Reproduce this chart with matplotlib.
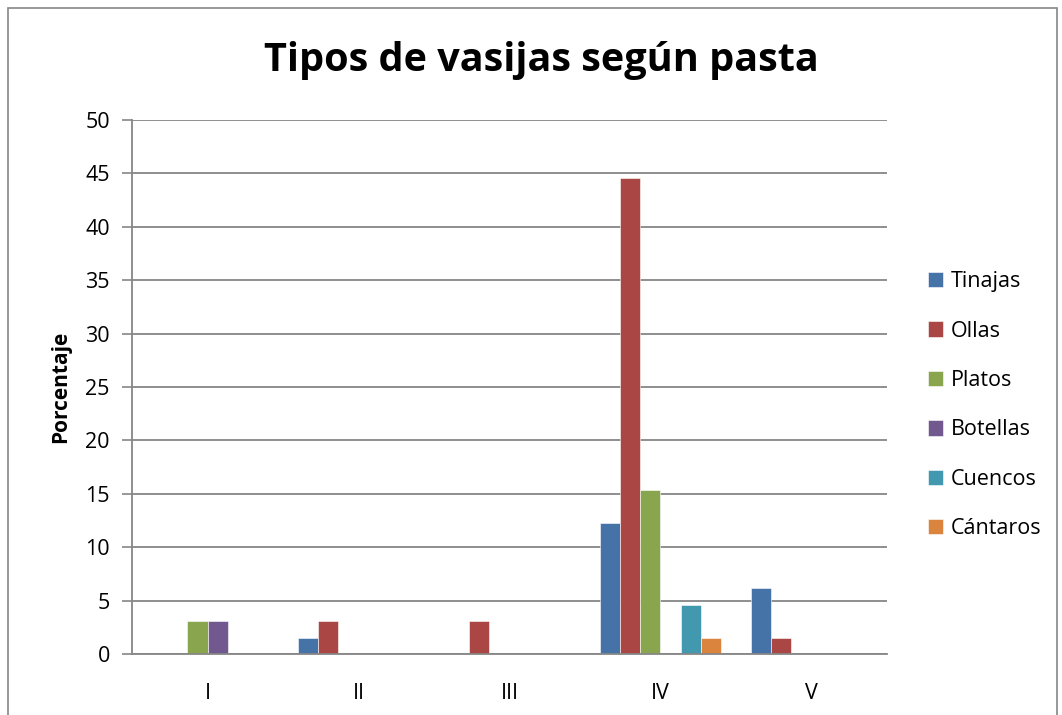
import numpy as np
import matplotlib.pyplot as plt
from matplotlib.patches import Rectangle

# Datos
pastas = ["I", "II", "III", "IV", "V"]
tipos = ["Tinajas", "Ollas", "Platos", "Botellas", "Cuencos", "Cántaros"]
tinajas = [0, 1.5, 0, 12.3, 6.2]
ollas = [0, 3.1, 3.1, 44.6, 1.5]
platos = [3.1, 0, 0, 15.4, 0]
botellas = [3.1, 0, 0, 0, 0]
cuencos = [0, 0, 0, 4.6, 0]
cantaros = [0, 0, 0, 1.5, 0]
series = [tinajas, ollas, platos, botellas, cuencos, cantaros]
colores = ["#4572A7", "#AA4643", "#89A54E", "#71588F", "#4198AF", "#DB843D"]

plt.rcParams['font.family'] = ['Open Sans', 'DejaVu Sans']

fig = plt.figure(figsize=(10.62, 7.15), dpi=100)
ax = fig.add_axes([132 / 1062, 1 - 654 / 715, (887 - 132) / 1062, (654 - 120) / 715])

x = np.arange(len(pastas))
ancho = 1 / 7.5
for i, (vals, nombre, col) in enumerate(zip(series, tipos, colores)):
    ax.bar(x + (i - 2.5) * ancho, vals, ancho, color=col, label=nombre,
           edgecolor="white", linewidth=0.4)

ax.set_xlim(-0.5, len(pastas) - 0.5)
ax.set_ylim(0, 50)
ax.set_yticks(range(0, 51, 5))
ax.set_xticks(x)
ax.set_xticklabels(pastas)
ax.tick_params(axis="x", length=0, pad=21, labelsize=15.5)
ax.tick_params(axis="y", length=7, width=1.2, color="#868686", pad=9, labelsize=15.5)
ax.grid(axis="y", color="#868686", linewidth=1.3)
ax.set_axisbelow(True)
for lado in ["top", "right"]:
    ax.spines[lado].set_visible(False)
for lado in ["left", "bottom"]:
    ax.spines[lado].set_color("#868686")
    ax.spines[lado].set_linewidth(1.3)

ax.set_ylabel("Porcentaje", fontsize=15, fontweight="bold", labelpad=10)
fig.text(541 / 1062, 1 - 60 / 715, "Tipos de vasijas según pasta", fontsize=28.5,
         fontweight="bold", ha="center", va="center")

ax.legend(loc="center left", bbox_to_anchor=(1.028, 0.466), frameon=False,
          fontsize=15.5, handlelength=0.72, handleheight=0.72, handletextpad=0.35,
          labelspacing=1.32)

fig.patches.append(Rectangle((8 / 1062, -0.01), 1049 / 1062, 1 - 8 / 715 + 0.01,
                             transform=fig.transFigure, fill=False,
                             edgecolor="#868686", linewidth=1.2))

plt.savefig("out.png", dpi=100)
